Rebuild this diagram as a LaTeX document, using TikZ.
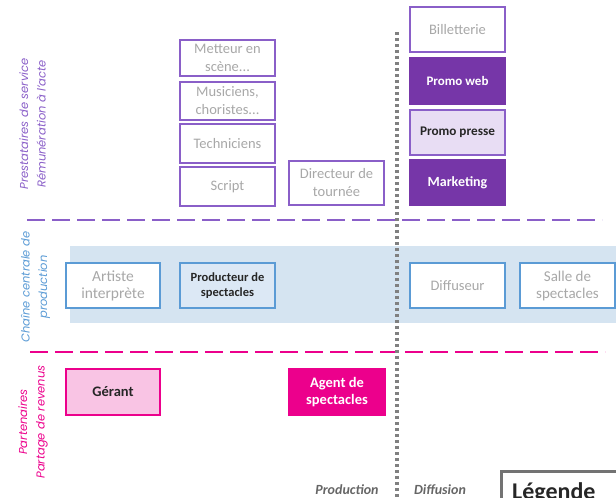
\documentclass[tikz,border=0pt]{standalone}
\usepackage{fontspec}
\setmainfont{Carlito}
\newfontfamily\sidefont{Poppins}
\definecolor{purp}{HTML}{8A5FC8}
\definecolor{dpurp}{HTML}{7636A8}
\definecolor{lpurp}{HTML}{E8DDF4}
\definecolor{bandblue}{HTML}{D5E4F1}
\definecolor{bblue}{HTML}{5B9BD5}
\definecolor{lblue}{HTML}{DCE8F5}
\definecolor{pink}{HTML}{EC008C}
\definecolor{lpink}{HTML}{F9C4E4}
\definecolor{lgray}{HTML}{A8A8A8}
\definecolor{sidepurp}{HTML}{8A5FC8}
\definecolor{sideblue}{HTML}{5B9BD5}
\begin{document}
\begin{tikzpicture}[x=1pt,y=-1pt,
  box/.style={draw, line width=1.2pt, minimum width=95pt, inner sep=1pt, align=center, font=\fontsize{14.5}{18}\selectfont},
  pbox/.style={box, draw=purp, fill=white, text=lgray},
  pdark/.style={box, draw=dpurp, fill=dpurp, text=white, font=\fontsize{14}{17}\selectfont\bfseries},
  plight/.style={box, draw=purp, fill=lpurp, text=black!85, font=\fontsize{13.2}{16}\selectfont\bfseries},
  bbox/.style={box, draw=bblue, fill=white, text=lgray},
  bboxb/.style={box, draw=bblue, fill=lblue, text=black!85, font=\fontsize{12.5}{14.5}\selectfont\bfseries},
  sidelab/.style={rotate=90, align=center, font=\sidefont\itshape\fontsize{11.5}{17.5}\selectfont},
  axlab/.style={text=black!60, font=\fontsize{14}{16}\selectfont\bfseries\itshape}
]
\useasboundingbox (0,0) rectangle (616,498);
\clip (0,0) rectangle (616,498);
% band
\fill[bandblue] (70,246) rectangle (616,323);
% dividers
\draw[purp, line width=2.6pt, dash pattern=on 18pt off 7pt] (27,220) -- (602,220);
\draw[pink, line width=2.4pt, dash pattern=on 18pt off 7pt] (30,352) -- (605,352);
\draw[gray, line width=3.2pt, dash pattern=on 3pt off 3pt] (397,32) -- (397,498);
% prestataires
\node[pbox, minimum height=36pt] (met) at (227.5,58) {Metteur en\\scène...};
\node[pbox, minimum height=38pt] (mus) at (227.5,101) {Musiciens,\\choristes...};
\node[pbox, minimum height=39pt] (tech) at (227.5,143.5) {Techniciens};
\node[pbox, minimum height=39pt] (scr) at (227.5,186.5) {Script};
\node[pbox, minimum height=44pt] (dir) at (336.5,183) {Directeur de\\tournée};
\node[pbox, minimum height=45pt] (bill) at (457.5,29.5) {Billetterie};
\node[pdark, minimum height=46pt, font=\fontsize{13}{16}\selectfont\bfseries] (pweb) at (457.5,81) {Promo web};
\node[plight, minimum height=45pt] (ppr) at (457.5,132.5) {Promo presse};
\node[pdark, minimum height=45pt] (mkt) at (457.5,182.5) {Marketing};
% chaine centrale
\node[bbox, minimum width=94pt, minimum height=45pt, font=\fontsize{15.5}{17}\selectfont] (art) at (113,285.5) {Artiste\\interprète};
\node[bboxb, minimum height=45pt] (prod) at (227.5,285.5) {Producteur de\\spectacles};
\node[bbox, minimum height=45pt] (diff) at (457.5,285.5) {Diffuseur};
\node[bbox, minimum height=45pt, font=\fontsize{15}{17}\selectfont] (salle) at (567.5,285.5) {Salle de\\spectacles};
% partenaires
\node[box, draw=pink, fill=lpink, text=black!85, minimum width=94pt, minimum height=46pt, font=\fontsize{14.5}{17}\selectfont\bfseries] (ger) at (113,392) {Gérant};
\node[box, draw=pink, fill=pink, text=white, minimum width=96pt, minimum height=46pt, font=\fontsize{14.5}{17}\selectfont\bfseries] (agent) at (337,392) {Agent de\\spectacles};
% side labels
\node[sidelab, text=sidepurp] (s1) at (32.5,124) {Prestataires de service\\Rémunération à l’acte};
\node[sidelab, text=sideblue] (s2) at (35.5,287) {Chaîne centrale de\\production};
\node[sidelab, text=pink] (s3) at (33,422) {Partenaires\\Partage de revenus};
% axis labels
\node[axlab] (pl) at (347,490) {Production};
\node[axlab] (dl) at (440,490) {Diffusion};
% legend
\draw[black!55, line width=3pt, fill=white] (501.5,471.5) rectangle (640,520);
\node[anchor=base west, inner sep=0pt, font=\fontsize{24}{28}\selectfont\bfseries, text=black!85] (leg) at (512,499) {Légende};
\end{tikzpicture}
\end{document}
